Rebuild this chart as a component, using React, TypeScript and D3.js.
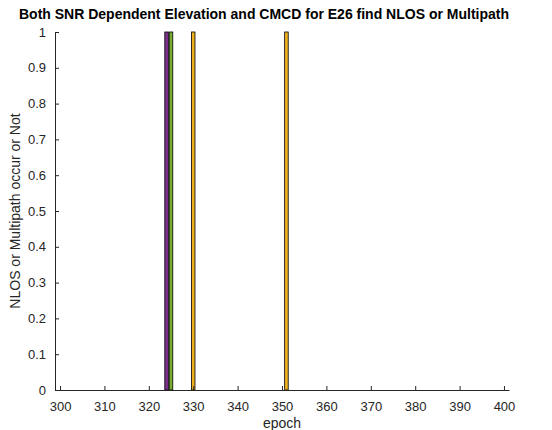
import React, { useEffect, useRef } from "react";
import * as d3 from "d3";

// Epochs flagged by each series (value = 1 means NLOS/multipath detected)
const purpleEpochs = [324];
const greenEpochs = [325];
const orangeEpochs = [330, 351];
const flagValue = 1;

const xTicks = [300, 310, 320, 330, 340, 350, 360, 370, 380, 390, 400];
const yTicks = [0, 0.1, 0.2, 0.3, 0.4, 0.5, 0.6, 0.7, 0.8, 0.9, 1];

const titleText =
  "Both SNR Dependent Elevation and CMCD for E26 find NLOS or Multipath";
const xLabel = "epoch";
const yLabel = "NLOS or Multipath occur or Not";

export default function App() {
  const svgRef = useRef<SVGSVGElement>(null);

  useEffect(() => {
    const W = 552;
    const H = 430;
    const margin = { top: 32, right: 43, bottom: 40, left: 55 };
    const width = W - margin.left - margin.right;
    const height = H - margin.top - margin.bottom;
    const axisColor = "#262626";
    const font = "Arial, 'Liberation Sans', Helvetica, sans-serif";

    d3.select(svgRef.current).selectAll("*").remove();

    const root = d3
      .select(svgRef.current)
      .attr("width", W)
      .attr("height", H)
      .style("font-family", font);

    root.append("rect").attr("width", W).attr("height", H).attr("fill", "#fff");

    const svg = root
      .append("g")
      .attr("transform", `translate(${margin.left},${margin.top})`);

    const x = d3.scaleLinear().domain([298.87, 401.13]).range([0, width]);
    const y = d3.scaleLinear().domain([0, 1]).range([height, 0]);

    // Bars
    const barW = 0.8;
    const series = [
      { epochs: purpleEpochs, color: "#7E2F8E" },
      { epochs: greenEpochs, color: "#77AC30" },
      { epochs: orangeEpochs, color: "#EDB120" },
    ];
    series.forEach((s) => {
      svg
        .append("g")
        .selectAll("rect")
        .data(s.epochs)
        .join("rect")
        .attr("x", (d) => x(d - barW / 2))
        .attr("y", y(flagValue))
        .attr("width", x(barW) - x(0))
        .attr("height", y(0) - y(flagValue))
        .attr("fill", s.color)
        .attr("stroke", "#000")
        .attr("stroke-width", 0.8);
    });

    // X axis (ticks pointing inward)
    const xAxis = svg
      .append("g")
      .attr("transform", `translate(0,${height})`)
      .call(d3.axisBottom(x).tickValues(xTicks).tickSizeInner(-4).tickSizeOuter(0).tickPadding(12));
    xAxis.select(".domain").attr("stroke", axisColor);
    xAxis.selectAll(".tick line").attr("stroke", axisColor);
    xAxis
      .selectAll("text")
      .attr("fill", axisColor)
      .style("font-size", "13px")
      .style("font-family", font);

    // Y axis
    const yAxis = svg
      .append("g")
      .call(
        d3
          .axisLeft(y)
          .tickValues(yTicks)
          .tickFormat((d) => String(+(+d).toFixed(1)))
          .tickSizeInner(-4)
          .tickSizeOuter(0)
          .tickPadding(9)
      );
    yAxis.select(".domain").attr("stroke", axisColor);
    yAxis.selectAll(".tick line").attr("stroke", axisColor);
    yAxis
      .selectAll("text")
      .attr("fill", axisColor)
      .style("font-size", "13px")
      .style("font-family", font);

    // Title
    root
      .append("text")
      .attr("x", 264)
      .attr("y", 19)
      .attr("text-anchor", "middle")
      .style("font-size", "14px")
      .style("font-weight", "bold")
      .attr("fill", "#000")
      .text(titleText);

    // Axis labels
    root
      .append("text")
      .attr("x", margin.left + width / 2)
      .attr("y", 428)
      .attr("text-anchor", "middle")
      .style("font-size", "14px")
      .attr("fill", axisColor)
      .text(xLabel);

    root
      .append("text")
      .attr("transform", `translate(20,${margin.top + height / 2}) rotate(-90)`)
      .attr("text-anchor", "middle")
      .style("font-size", "14px")
      .attr("fill", axisColor)
      .text(yLabel);
  }, []);

  return (
    <svg
      ref={svgRef}
      style={{ position: "absolute", left: 0, top: 0, display: "block" }}
    ></svg>
  );
}
